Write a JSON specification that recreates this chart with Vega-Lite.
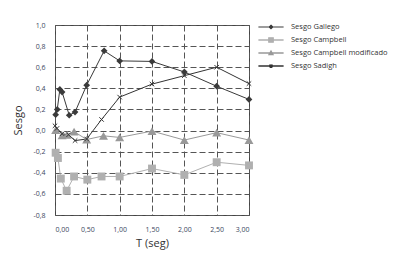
{
  "$schema": "https://vega.github.io/schema/vega-lite/v6.json",
  "width": 194,
  "height": 190,
  "autosize": "none",
  "padding": {"left": 55, "top": 25, "right": 152, "bottom": 45},
  "background": "white",
  "config": {
    "view": {"stroke": "#444", "strokeWidth": 1},
    "font": "Open Sans"
  },
  "data": {"values": [
    {"s": "Sesgo Gallego", "T": 0.01, "v": 0.15},
    {"s": "Sesgo Gallego", "T": 0.035, "v": 0.20},
    {"s": "Sesgo Gallego", "T": 0.075, "v": 0.39},
    {"s": "Sesgo Gallego", "T": 0.11, "v": 0.365},
    {"s": "Sesgo Gallego", "T": 0.22, "v": 0.145},
    {"s": "Sesgo Gallego", "T": 0.31, "v": 0.175},
    {"s": "Sesgo Gallego", "T": 0.49, "v": 0.43},
    {"s": "Sesgo Gallego", "T": 0.76, "v": 0.755},
    {"s": "Sesgo Gallego", "T": 1.0, "v": 0.66},
    {"s": "Sesgo Gallego", "T": 1.5, "v": 0.655},
    {"s": "Sesgo Gallego", "T": 2.0, "v": 0.555},
    {"s": "Sesgo Gallego", "T": 2.5, "v": 0.42},
    {"s": "Sesgo Gallego", "T": 3.0, "v": 0.295},
    {"s": "Sesgo Campbell", "T": 0.01, "v": -0.21},
    {"s": "Sesgo Campbell", "T": 0.045, "v": -0.26},
    {"s": "Sesgo Campbell", "T": 0.09, "v": -0.455},
    {"s": "Sesgo Campbell", "T": 0.18, "v": -0.57},
    {"s": "Sesgo Campbell", "T": 0.295, "v": -0.435},
    {"s": "Sesgo Campbell", "T": 0.5, "v": -0.465},
    {"s": "Sesgo Campbell", "T": 0.72, "v": -0.435},
    {"s": "Sesgo Campbell", "T": 1.0, "v": -0.435},
    {"s": "Sesgo Campbell", "T": 1.5, "v": -0.36},
    {"s": "Sesgo Campbell", "T": 2.0, "v": -0.42},
    {"s": "Sesgo Campbell", "T": 2.5, "v": -0.30},
    {"s": "Sesgo Campbell", "T": 3.0, "v": -0.33},
    {"s": "Sesgo Campbell modificado", "T": 0.01, "v": 0.005},
    {"s": "Sesgo Campbell modificado", "T": 0.11, "v": -0.045},
    {"s": "Sesgo Campbell modificado", "T": 0.19, "v": -0.04},
    {"s": "Sesgo Campbell modificado", "T": 0.295, "v": -0.01},
    {"s": "Sesgo Campbell modificado", "T": 0.49, "v": -0.085},
    {"s": "Sesgo Campbell modificado", "T": 0.75, "v": -0.05},
    {"s": "Sesgo Campbell modificado", "T": 1.0, "v": -0.065},
    {"s": "Sesgo Campbell modificado", "T": 1.5, "v": -0.005},
    {"s": "Sesgo Campbell modificado", "T": 2.0, "v": -0.09},
    {"s": "Sesgo Campbell modificado", "T": 2.5, "v": -0.02},
    {"s": "Sesgo Campbell modificado", "T": 3.0, "v": -0.09},
    {"s": "Sesgo Sadigh", "T": 0.0, "v": 0.045},
    {"s": "Sesgo Sadigh", "T": 0.03, "v": 0.02},
    {"s": "Sesgo Sadigh", "T": 0.11, "v": -0.03},
    {"s": "Sesgo Sadigh", "T": 0.21, "v": -0.04},
    {"s": "Sesgo Sadigh", "T": 0.31, "v": -0.095},
    {"s": "Sesgo Sadigh", "T": 0.49, "v": -0.08},
    {"s": "Sesgo Sadigh", "T": 0.72, "v": 0.105},
    {"s": "Sesgo Sadigh", "T": 1.0, "v": 0.317},
    {"s": "Sesgo Sadigh", "T": 1.5, "v": 0.44},
    {"s": "Sesgo Sadigh", "T": 2.0, "v": 0.52},
    {"s": "Sesgo Sadigh", "T": 2.5, "v": 0.60},
    {"s": "Sesgo Sadigh", "T": 3.0, "v": 0.445}
  ]},
  "encoding": {
    "x": {
      "field": "T", "type": "quantitative",
      "scale": {"domain": [0, 3], "nice": false, "zero": false},
      "axis": {
        "title": "T (seg)", "values": [0, 0.5, 1, 1.5, 2, 2.5, 3],
        "labelExpr": "replace(format(datum.value, '.2f'), '.', ',')",
        "grid": true, "gridDash": [6, 3], "gridColor": "#555", "gridWidth": 1, "gridOpacity": 1,
        "domain": false, "ticks": false,
        "labelFontSize": 7, "labelColor": "#3b4660", "labelPadding": 10,
        "titleFontSize": 11, "titleFontWeight": "normal", "titleColor": "#333", "titlePadding": 5
      }
    },
    "y": {
      "field": "v", "type": "quantitative",
      "scale": {"domain": [-0.8, 1.0], "nice": false, "zero": false},
      "axis": {
        "title": "Sesgo", "values": [-0.8, -0.6, -0.4, -0.2, 0, 0.2, 0.4, 0.6, 0.8, 1.0],
        "labelExpr": "replace(replace(format(datum.value, '.1f'), '.', ','), '−', '-')",
        "grid": true, "gridDash": [6, 3], "gridColor": "#555", "gridWidth": 1, "gridOpacity": 1,
        "domain": false, "ticks": false,
        "labelFontSize": 7, "labelColor": "#3b4660", "labelPadding": 10,
        "titleFontSize": 11, "titleFontWeight": "normal", "titleColor": "#333", "titlePadding": 9
      }
    },
    "color": {
      "field": "s", "type": "nominal",
      "scale": {
        "domain": ["Sesgo Gallego", "Sesgo Campbell", "Sesgo Campbell modificado", "Sesgo Sadigh"],
        "range": ["#3a3a3a", "#b0b0b0", "#999999", "#333333"]
      }
    }
  },
  "layer": [
    {
      "mark": {"type": "line", "strokeWidth": 1},
      "encoding": {
        "strokeWidth": {
          "field": "s", "type": "nominal", "legend": null,
          "scale": {"domain": ["Sesgo Gallego", "Sesgo Campbell", "Sesgo Campbell modificado", "Sesgo Sadigh"], "range": [1.2, 1.4, 1.0, 0.8]}
        },
        "color": {
          "field": "s", "type": "nominal",
          "legend": {
            "title": null, "orient": "none", "legendX": 208, "legendY": -6,
            "symbolSize": 196, "symbolType": "stroke", "padding": 0, "rowPadding": 0,
            "labelOffset": 12, "labelFontSize": 7.5, "labelColor": "#333", "labelFont": "Open Sans",
            "encode": {
              "symbols": {
                "update": {
                  "shape": {"signal": "datum.value == 'Sesgo Gallego' ? 'M-1.8,0H1.8M0,-0.25L0.25,0L0,0.25L-0.25,0Z' : datum.value == 'Sesgo Campbell' ? 'M-1.8,0H1.8M-0.32,-0.32H0.32V0.32H-0.32Z' : datum.value == 'Sesgo Campbell modificado' ? 'M-1.8,0H1.8M0,-0.28L0.28,0.22H-0.28Z' : 'M-1.8,0H1.8M-0.2,-0.2L0.2,0.2M-0.2,0.2L0.2,-0.2'"},
                  "fill": {"signal": "datum.value == 'Sesgo Sadigh' ? 'transparent' : scale('color', datum.value)"},
                  "stroke": {"signal": "scale('color', datum.value)"},
                  "strokeWidth": {"value": 1},
                  "opacity": {"value": 1}
                }
              }
            }
          }
        }
      }
    },
    {
      "transform": [{"filter": "datum.s != 'Sesgo Sadigh'"}],
      "mark": {"type": "point", "filled": true, "opacity": 1},
      "encoding": {
        "shape": {
          "field": "s", "type": "nominal", "legend": null,
          "scale": {"domain": ["Sesgo Gallego", "Sesgo Campbell", "Sesgo Campbell modificado"], "range": ["diamond", "square", "triangle-up"]}
        },
        "size": {
          "field": "s", "type": "nominal", "legend": null,
          "scale": {"domain": ["Sesgo Gallego", "Sesgo Campbell", "Sesgo Campbell modificado"], "range": [45, 80, 40]}
        }
      }
    },
    {
      "transform": [{"filter": "datum.s == 'Sesgo Sadigh'"}],
      "mark": {"type": "point", "filled": false, "opacity": 1, "shape": "M-1,-1L1,1M-1,1L1,-1", "size": 20, "strokeWidth": 1}
    }
  ]
}
